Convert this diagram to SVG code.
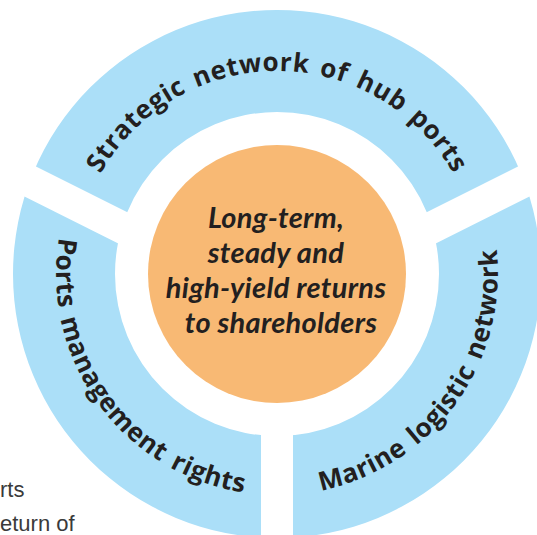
<svg xmlns="http://www.w3.org/2000/svg" width="537" height="535" viewBox="0 0 537 535">
  <style>
    .ring { fill: #abdff8; }
    .gap { fill: #ffffff; }
    .core { fill: #f8b974; }
    .arc-label { font-family: "Open Sans", "Liberation Sans", sans-serif; font-weight: 700; font-size: 26px; letter-spacing: 0.6px; word-spacing: 3px; fill: #231f20; }
    .core-label { font-family: Lato, "Open Sans", sans-serif; font-weight: 700; font-style: italic; font-size: 29px; letter-spacing: 0.3px; fill: #231f20; text-anchor: middle; }
    .body-text { font-family: "Liberation Sans", "DejaVu Sans", sans-serif; font-size: 22px; fill: #3a3a3a; }
  </style>
  <defs>
    <!-- baseline arcs around the centre (277,274) -->
    <path id="arc-top" d="M 74 274 A 203 203 0 0 1 480 274"/>
    <path id="arc-left" d="M 147.1 95.2 A 221 221 0 0 0 406.9 452.8"/>
    <path id="arc-right" d="M 147.1 452.8 A 221 221 0 0 0 406.9 95.2"/>
  </defs>

  <rect width="537" height="535" fill="#ffffff"/>

  <!-- partial body copy at the lower left -->
  <text class="body-text" x="0" y="497">rts</text>
  <text class="body-text" x="0" y="531">eturn of</text>

  <!-- blue ring split into three segments by white bars -->
  <g id="ring">
    <path class="ring" fill-rule="evenodd" d="M 13 274 A 264 264 0 1 0 541 274 A 264 264 0 1 0 13 274 Z M 115 274 A 162 162 0 1 1 439 274 A 162 162 0 1 1 115 274 Z"/>
  </g>

  <g id="connectors">
    <!-- separators meeting at (277,305) -->
    <rect class="gap" x="261" y="305" width="32" height="240"/>
    <rect class="gap" x="0" y="-16" width="340" height="32" transform="translate(277 305) rotate(-26.57)"/>
    <rect class="gap" x="0" y="-16" width="340" height="32" transform="translate(277 305) rotate(-153.43)"/>
  </g>

  <g id="segment-top">
    <text class="arc-label"><textPath href="#arc-top" startOffset="50%" text-anchor="middle">Strategic network of hub ports</textPath></text>
  </g>
  <g id="segment-left">
    <text class="arc-label"><textPath href="#arc-left" startOffset="50%" text-anchor="middle">Ports management rights</textPath></text>
  </g>
  <g id="segment-right">
    <text class="arc-label"><textPath href="#arc-right" startOffset="50%" text-anchor="middle">Marine logistic network</textPath></text>
  </g>

  <g id="core">
    <circle class="core" cx="277" cy="274" r="129"/>
    <text class="core-label" x="276" y="228">Long-term,</text>
    <text class="core-label" x="276" y="263">steady and</text>
    <text class="core-label" x="276" y="298">high-yield returns</text>
    <text class="core-label" x="281" y="333">to shareholders</text>
  </g>
</svg>
